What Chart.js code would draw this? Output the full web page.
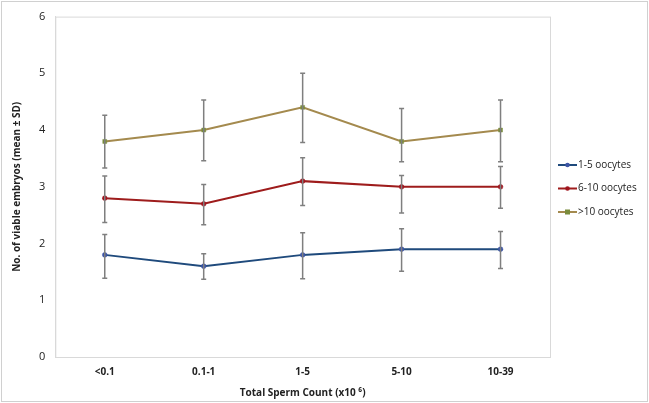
<!DOCTYPE html>
<html>
<head>
<meta charset="utf-8">
<script src="https://cdn.jsdelivr.net/npm/chart.js@4/dist/chart.umd.min.js"></script>
<style>
  html, body { margin: 0; padding: 0; background: #ffffff; }
  #wrap { width: 649px; height: 403px; position: relative; }
</style>
</head>
<body>
<div id="wrap"><canvas id="embryoChart"></canvas></div>
<script>
// categories (total sperm count, x10^6)
const categories = ['<0.1', '0.1-1', '1-5', '5-10', '10-39'];

// mean values
const oocytes1to5 = [1.8, 1.6, 1.8, 1.9, 1.9];
const oocytes6to10 = [2.8, 2.7, 3.1, 3.0, 3.0];
const oocytesOver10 = [3.8, 4.0, 4.4, 3.8, 4.0];

// error bar ends (top / bottom)
const hi1to5 = [2.16, 1.82, 2.19, 2.26, 2.21];
const lo1to5 = [1.39, 1.37, 1.38, 1.51, 1.56];
const hi6to10 = [3.19, 3.04, 3.51, 3.20, 3.36];
const lo6to10 = [2.37, 2.33, 2.67, 2.54, 2.62];
const hiOver10 = [4.26, 4.53, 5.00, 4.38, 4.53];
const loOver10 = [3.33, 3.46, 3.78, 3.44, 3.44];

const yTicks = [0, 1, 2, 3, 4, 5, 6];

let seriesNames = ['1-5 oocytes', '6-10 oocytes', '>10 oocytes'];
let lineColors = ['#1f4a7c', '#9e1c1c', '#a48a4e'];
let markerColors = ['#3d55a5', '#a0141e', '#7a8c3c'];
let markerStyles = ['circle', 'circle', 'rect'];
let errHi = [hi1to5, hi6to10, hiOver10];
let errLo = [lo1to5, lo6to10, loOver10];

// vertical error bars with caps, drawn through the y scale
const errorBars = {
    id: 'errorBars',
    afterDatasetsDraw(chart) {
        const ctx = chart.ctx;
        const y = chart.scales.y;
        ctx.save();
        ctx.strokeStyle = '#7f7f7f';
        ctx.lineWidth = 1.5;
        chart.data.datasets.forEach((ds, i) => {
            const meta = chart.getDatasetMeta(i);
            meta.data.forEach((pt, j) => {
                const top = y.getPixelForValue(errHi[i][j]);
                const bot = y.getPixelForValue(errLo[i][j]);
                ctx.beginPath();
                ctx.moveTo(pt.x, top); ctx.lineTo(pt.x, bot);
                ctx.moveTo(pt.x - 2.5, top); ctx.lineTo(pt.x + 2.5, top);
                ctx.moveTo(pt.x - 2.5, bot); ctx.lineTo(pt.x + 2.5, bot);
                ctx.stroke();
            });
        });
        ctx.restore();
    }
};

// plot frame, outer border and excel-like legend
const frame = {
    id: 'frame',
    beforeDatasetsDraw(chart) {
        const ctx = chart.ctx;
        const a = chart.chartArea;
        ctx.save();
        ctx.strokeStyle = '#d9d9d9';
        ctx.lineWidth = 1;
        ctx.strokeRect(a.left + 0.5, a.top + 0.5, a.right - a.left, a.bottom - a.top);
        ctx.restore();
    },
    afterDraw(chart) {
        const ctx = chart.ctx;
        ctx.save();
        ctx.strokeStyle = '#d0d0d0';
        ctx.lineWidth = 1;
        ctx.strokeRect(1.5, 1.5, chart.width - 3, chart.height - 3);

        // legend
        const lx = 558, ly = 165, gap = 23.5;
        ctx.font = '10px "Open Sans", sans-serif';
        ctx.textBaseline = 'middle';
        seriesNames.forEach((name, i) => {
            const yy = ly + i * gap;
            ctx.strokeStyle = lineColors[i];
            ctx.lineWidth = 2;
            ctx.beginPath();
            ctx.moveTo(lx, yy); ctx.lineTo(lx + 19, yy);
            ctx.stroke();
            ctx.fillStyle = markerColors[i];
            if (markerStyles[i] === 'rect') {
                ctx.fillRect(lx + 7, yy - 2.5, 5, 5);
            } else {
                ctx.beginPath();
                ctx.arc(lx + 9.5, yy, 2.3, 0, Math.PI * 2);
                ctx.fill();
            }
            ctx.fillStyle = '#222222';
            ctx.fillText(name, lx + 20, yy);
        });
        ctx.restore();
    }
};

let datasets = [oocytes1to5, oocytes6to10, oocytesOver10].map((vals, i) => ({
    label: seriesNames[i],
    data: vals,
    borderColor: lineColors[i],
    backgroundColor: markerColors[i],
    pointBackgroundColor: markerColors[i],
    pointBorderColor: markerColors[i],
    pointBorderWidth: 0.5,
    pointStyle: markerStyles[i],
    pointRadius: markerStyles[i] === 'rect' ? 2.8 : 2.4,
    borderWidth: 2,
    tension: 0,
    fill: false,
}));

let chartInstance = new Chart(document.getElementById('embryoChart'), {
    type: 'line',
    data: { labels: categories, datasets: datasets },
    options: {
        responsive: true,
        maintainAspectRatio: false,
        animation: false,
        layout: { padding: { top: 9, right: 99, bottom: 2, left: 7 } },
        plugins: {
            legend: { display: false },
            tooltip: { enabled: false },
        },
        scales: {
            x: {
                offset: true,
                grid: { display: false, drawTicks: false },
                border: { color: '#d9d9d9' },
                ticks: {
                    color: '#222222',
                    padding: 9,
                    font: { family: 'Open Sans', size: 10, weight: 'bold' },
                },
                title: {
                    display: true,
                    text: 'Total Sperm Count (x10 ⁶)',
                    color: '#222222',
                    padding: { top: 0, bottom: 2 },
                    font: { family: 'Open Sans', size: 10, weight: 'bold' },
                },
            },
            y: {
                min: 0,
                max: 6,
                afterBuildTicks(axis) { axis.ticks = yTicks.map(v => ({ value: v })); },
                grid: { display: false, drawTicks: false },
                border: { color: '#d9d9d9' },
                ticks: {
                    color: '#222222',
                    padding: 10,
                    font: { family: 'Open Sans', size: 11 },
                },
                title: {
                    display: true,
                    text: 'No. of viable embryos (mean ± SD)',
                    color: '#222222',
                    padding: { bottom: 6 },
                    font: { family: 'Open Sans', size: 10, weight: 'bold' },
                },
            },
        },
    },
    plugins: [frame, errorBars],
});
</script>
</body>
</html>
